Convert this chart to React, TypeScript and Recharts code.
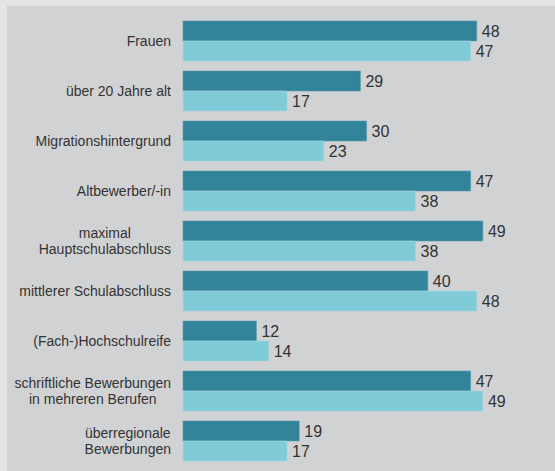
import { BarChart, Bar, XAxis, YAxis, LabelList } from 'recharts';

// Categories (line breaks as in the source)
const categories = [
  ['Frauen'],
  ['über 20 Jahre alt'],
  ['Migrationshintergrund'],
  ['Altbewerber/-in'],
  ['maximal', 'Hauptschulabschluss'],
  ['mittlerer Schulabschluss'],
  ['(Fach-)Hochschulreife'],
  ['schriftliche Bewerbungen', 'in mehreren Berufen'],
  ['überregionale', 'Bewerbungen'],
];

const seriesA = [48, 29, 30, 47, 49, 40, 12, 47, 19];
const seriesB = [47, 17, 23, 38, 38, 48, 14, 49, 17];

const chartData = categories.map((lines, i) => ({
  name: lines.join('\n'),
  a: seriesA[i],
  b: seriesB[i],
}));

const LABEL_FONT = '14px "Liberation Sans", Arial, sans-serif';
const VALUE_FONT = '"Liberation Sans", Arial, sans-serif';

let ctx: CanvasRenderingContext2D | null = null;
function measure(text: string) {
  if (!ctx) ctx = document.createElement('canvas').getContext('2d');
  if (!ctx) return text.length * 7;
  ctx.font = LABEL_FONT;
  return ctx.measureText(text).width;
}

// right-aligned block, lines centered within it
function CategoryTick(props: any) {
  const { x, y, payload } = props;
  const lines: string[] = String(payload.value).split('\n');
  const maxW = Math.max(...lines.map(measure));
  const cx = x - maxW / 2;
  const lh = 16;
  const startY = y - ((lines.length - 1) * lh) / 2;
  return (
    <text
      x={cx}
      y={startY}
      textAnchor="middle"
      fill="#333333"
      style={{ font: LABEL_FONT }}
    >
      {lines.map((l, i) => (
        <tspan key={i} x={cx} y={startY + i * lh} dominantBaseline="central">
          {l}
        </tspan>
      ))}
    </text>
  );
}

export default function App() {
  return (
    <div
      style={{
        position: 'absolute',
        left: 0,
        top: 0,
        width: 555,
        height: 471,
        background: '#e4e5e7',
      }}
    >
      <div
        style={{
          position: 'absolute',
          left: 7,
          top: 6,
          right: 0,
          bottom: 0,
          background: '#d1d2d4',
        }}
      />
      <div style={{ position: 'absolute', left: 0, top: 0 }}>
        <BarChart
          width={555}
          height={471}
          data={chartData}
          layout="vertical"
          margin={{ top: 15.5, right: 66, bottom: 5.5, left: 0 }}
          barCategoryGap={5.5}
          barGap={0}
        >
          <XAxis type="number" domain={[0, 50]} hide />
          <YAxis
            type="category"
            dataKey="name"
            width={183}
            axisLine={false}
            tickLine={false}
            tickMargin={6}
            interval={0}
            tick={<CategoryTick />}
          />
          <Bar dataKey="a" fill="#32849a" stroke="#5c9fb0" strokeWidth={0.6} isAnimationActive={false}>
            <LabelList
              dataKey="a"
              position="right"
              offset={5}
              fill="#333333"
              style={{ fontFamily: VALUE_FONT, fontSize: 16 }}
            />
          </Bar>
          <Bar dataKey="b" fill="#80cbd8" stroke="#a6d8e1" strokeWidth={0.6} isAnimationActive={false}>
            <LabelList
              dataKey="b"
              position="right"
              offset={5}
              fill="#333333"
              style={{ fontFamily: VALUE_FONT, fontSize: 16 }}
            />
          </Bar>
        </BarChart>
      </div>
    </div>
  );
}
